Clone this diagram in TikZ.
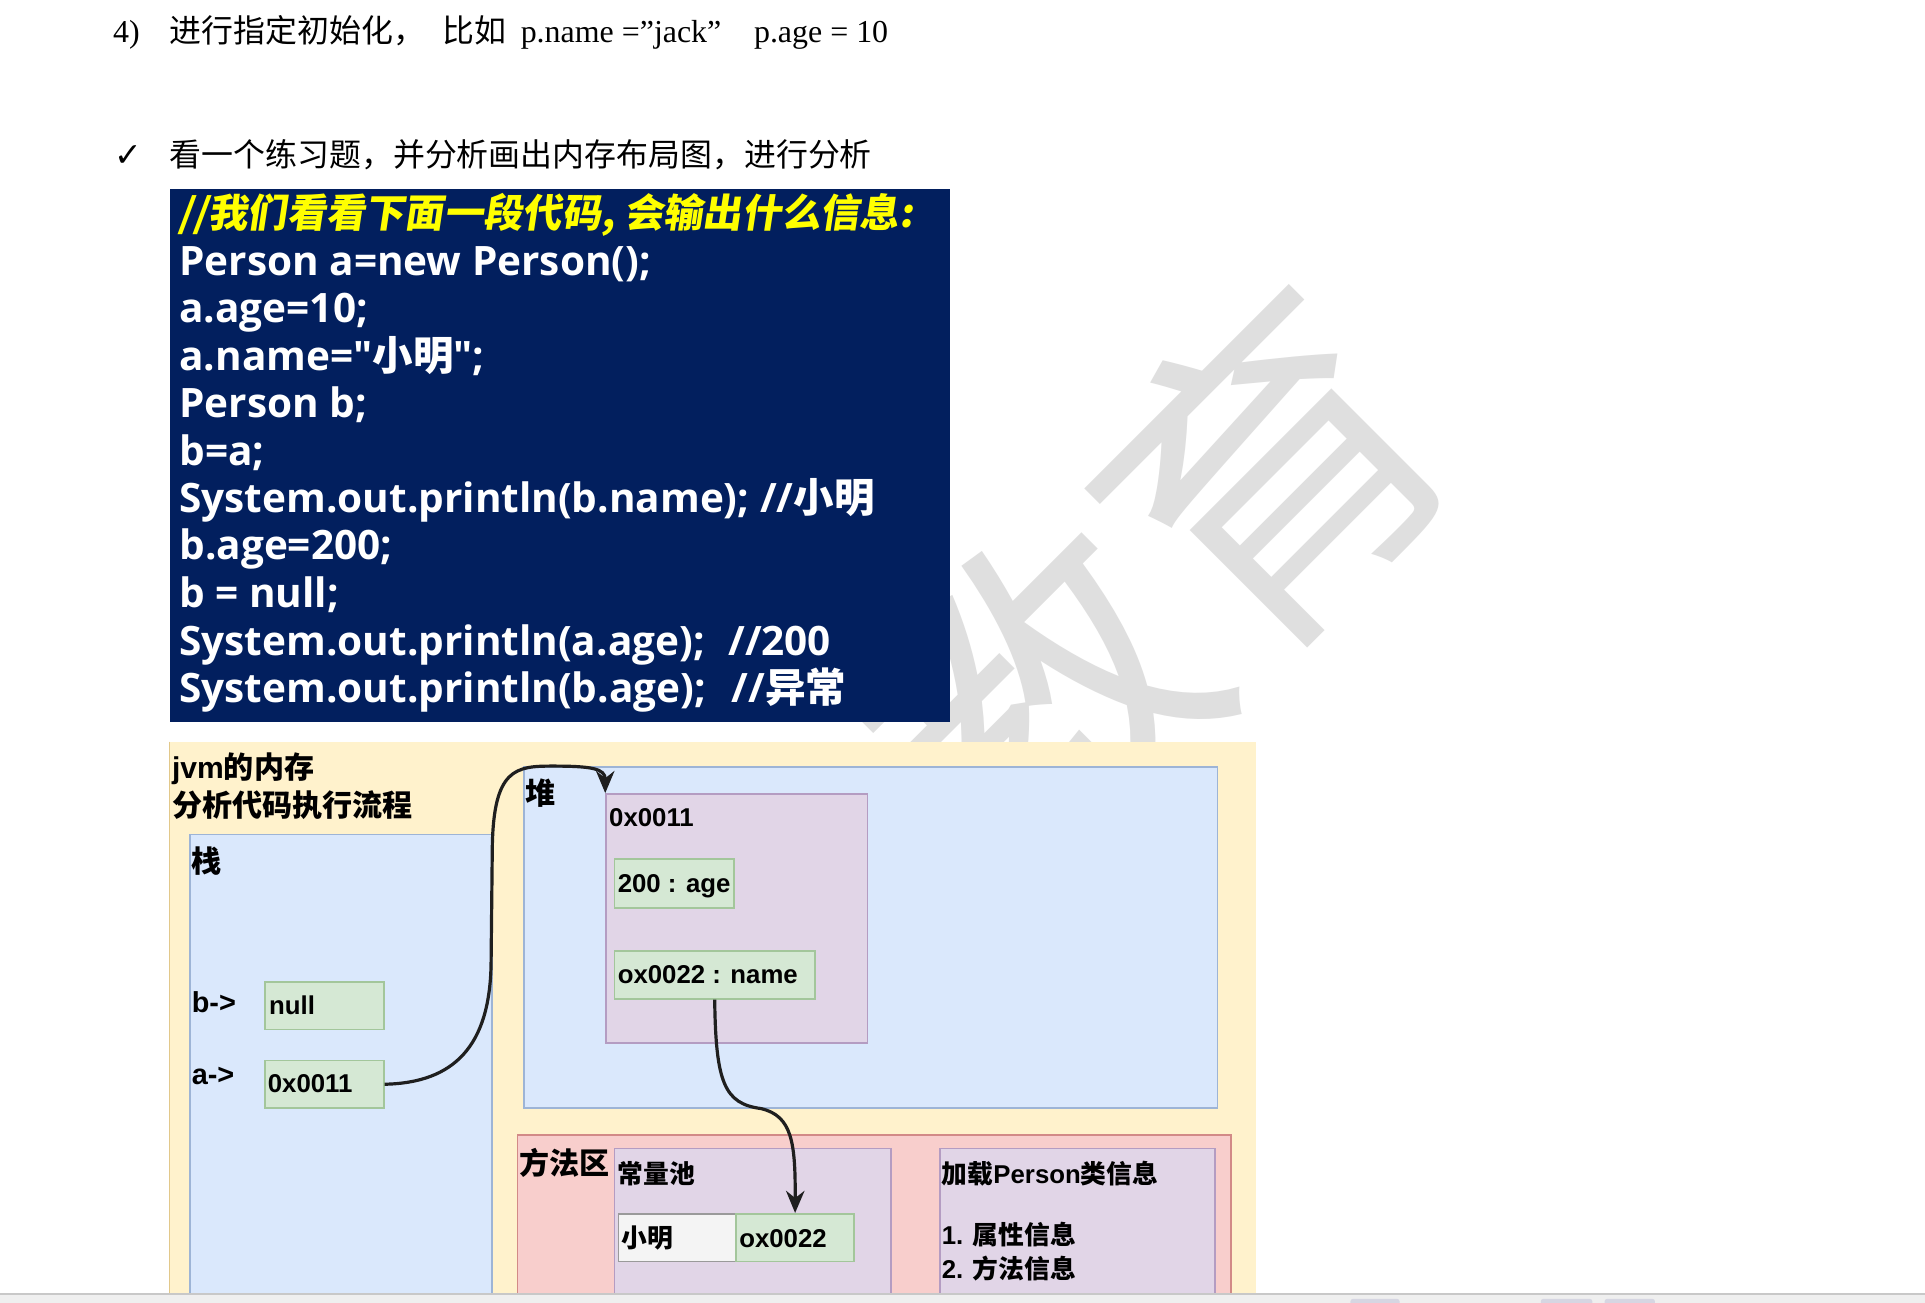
\documentclass[tikz,border=0pt]{standalone}
\usepackage{fontspec}
\setmainfont{Liberation Serif}
\newfontfamily\cjk{Noto Sans CJK SC}
\newfontfamily\cjkslant{Noto Sans CJK SC}[FakeSlant=0.15]
\newfontfamily\codefont{Open Sans}
\newfontfamily\diafont{Liberation Sans}
\newfontfamily\symfont{DejaVu Sans}
\usetikzlibrary{arrows.meta}

\definecolor{navy}{HTML}{021F5E}
\definecolor{codeyellow}{HTML}{FFFF00}
\definecolor{wmgrey}{HTML}{DFDFDF}
\definecolor{yfill}{HTML}{FFF2CC}
\definecolor{yline}{HTML}{E2C88A}
\definecolor{bfill}{HTML}{DAE8FC}
\definecolor{bline}{HTML}{9DB4D6}
\definecolor{pfill}{HTML}{E1D5E7}
\definecolor{pline}{HTML}{B49CC2}
\definecolor{gfill}{HTML}{D5E8D4}
\definecolor{gline}{HTML}{A3C69B}
\definecolor{rfill}{HTML}{F8CECC}
\definecolor{rline}{HTML}{D28A87}
\definecolor{wfill}{HTML}{F4F4F4}
\definecolor{wline}{HTML}{9A9A9A}
\definecolor{stripfill}{HTML}{EFEFEF}
\definecolor{stripline}{HTML}{C8C8C8}
\definecolor{strippatch}{HTML}{D6D6E2}

\newcommand\zhb[1]{{\cjk\bfseries #1}}

\tikzset{
  doc/.style={anchor=base west, inner sep=0pt, font=\fontsize{26}{26}\selectfont},
  wm/.style={inner sep=0pt, text=wmgrey, font=\cjk\fontsize{268}{268}\selectfont},
  codebox/.style={anchor=north west, fill=navy, inner sep=0pt},
  codeline/.style={anchor=base west, inner sep=0pt, text=white,
    font=\codefont\bfseries\fontsize{33}{33}\selectfont},
  codetitle/.style={anchor=base west, inner sep=0pt, text=codeyellow,
    font=\cjkslant\bfseries\fontsize{32}{32}\selectfont},
  region/.style={anchor=north west, inner sep=0pt, line width=1.3pt},
  bluebox/.style={region, fill=bfill, draw=bline},
  purplebox/.style={region, fill=pfill, draw=pline},
  greenbox/.style={region, fill=gfill, draw=gline},
  redbox/.style={region, fill=rfill, draw=rline},
  whitebox/.style={region, fill=wfill, draw=wline},
  lbl/.style={anchor=base west, inner sep=0pt, font=\diafont\bfseries\fontsize{21}{21}\selectfont},
  biglbl/.style={anchor=base west, inner sep=0pt, font=\diafont\bfseries\fontsize{24.5}{24.5}\selectfont},
  conn/.style={line width=2.6pt, draw=black!88, -{Stealth[length=18pt,width=15pt]}},
}

\begin{document}
\begin{tikzpicture}[x=1pt,y=-1pt]
\useasboundingbox (0,0) rectangle (1568,1061);
\fill[white] (0,0) rectangle (1568,1061);

% watermark behind everything
\node[wm, rotate=45] (wmark) at (940,478) {教育};

% running text above the exercise
\node[doc] (num) at (92,35) {4)};
\node[doc] (init) at (138,35) {\cjk 进行指定初始化，};
\node[doc] (eg) at (360,35) {\cjk 比如};
\node[doc] (pname) at (424,35) {p.name =”jack”};
\node[doc] (page) at (614,35) {p.age = 10};
\node[doc, font=\symfont\fontsize{27}{27}\selectfont] (tick) at (93,136) {✓};
\node[doc] (task) at (138,136) {\cjk 看一个练习题，并分析画出内存布局图，进行分析};

% code listing
\node[codebox, minimum width=636pt, minimum height=434pt] (code) at (138,154) {};
\node[codetitle] (c0) at (145,185) {//我们看看下面一段代码, 会输出什么信息:};
\node[codeline] (c1) at (146,224) {Person a=new Person();};
\node[codeline] (c2) at (146,262.7) {a.age=10;};
\node[codeline] (c3) at (146,301.4) {a.name="\zhb{小明}";};
\node[codeline] (c4) at (146,340) {Person b;};
\node[codeline] (c5) at (146,378.8) {b=a;};
\node[codeline] (c6) at (146,417.5) {System.out.println(b.name);};
\node[codeline] (c6c) at (619,417.5) {//\zhb{小明}};
\node[codeline] (c7) at (146,456) {b.age=200;};
\node[codeline] (c8) at (146,495) {b = null;};
\node[codeline] (c9) at (146,533.6) {System.out.println(a.age);};
\node[codeline] (c9c) at (593,533.6) {//200};
\node[codeline] (c10) at (146,572.3) {System.out.println(b.age);};
\node[codeline] (c10c) at (596,572.3) {//\zhb{异常}};

% memory layout
\node[region, fill=yfill, minimum width=884pt, minimum height=460pt] (jvm) at (138,604) {};
\draw[yline, line width=1.3pt] (jvm.north west) -- (jvm.south west);
\node[biglbl] (jvmt1) at (140,634) {jvm\zhb{的内存}};
\node[biglbl] (jvmt2) at (140,665) {\zhb{分析代码执行流程}};

% stack
\node[bluebox, minimum width=246pt, minimum height=390pt] (stack) at (154,679) {};
\node[biglbl] (stackt) at (156,711) {\zhb{栈}};
\node[biglbl, font=\diafont\bfseries\fontsize{23.5}{23.5}\selectfont] (bptr) at (156,825) {b->};
\node[biglbl, font=\diafont\bfseries\fontsize{23.5}{23.5}\selectfont] (aptr) at (156,883) {a->};
\node[greenbox, minimum width=97pt, minimum height=39pt] (bnull) at (215,799) {};
\node[lbl] (bnullt) at (219,826) {null};
\node[greenbox, minimum width=97pt, minimum height=39pt] (a0011) at (215,863) {};
\node[lbl] (a0011t) at (218,890) {0x0011};

% heap
\node[bluebox, minimum width=565pt, minimum height=278pt] (heap) at (426,624) {};
\node[biglbl] (heapt) at (428,655) {\zhb{堆}};
\node[purplebox, minimum width=213pt, minimum height=203pt] (obj) at (493,646) {};
\node[lbl] (objt) at (496,673) {0x0011};
\node[greenbox, minimum width=97pt, minimum height=40pt] (age) at (500,699) {};
\node[lbl] (aget) at (503,727) {200 : age};
\node[greenbox, minimum width=163pt, minimum height=39pt] (name) at (500,774) {};
\node[lbl] (namet) at (503,801) {ox0022 : name};

% method area
\node[redbox, minimum width=581pt, minimum height=140pt] (method) at (421,924) {};
\node[biglbl] (methodt) at (423,957) {\zhb{方法区}};
\node[purplebox, minimum width=225pt, minimum height=130pt] (pool) at (500,935) {};
\node[lbl] (poolt) at (503,964) {\zhb{常量池}};
\node[whitebox, minimum width=96pt, minimum height=39pt] (xm) at (503,988) {};
\node[lbl] (xmt) at (506,1016) {\zhb{小明}};
\node[greenbox, minimum width=96pt, minimum height=39pt] (ox22) at (599,988) {};
\node[lbl] (ox22t) at (602,1016) {ox0022};
\node[purplebox, minimum width=224pt, minimum height=130pt] (cls) at (765,935) {};
\node[lbl] (clst) at (767,964) {\zhb{加载}Person\zhb{类信息}};
\node[lbl] (cls1) at (767,1014) {1. \zhb{属性信息}};
\node[lbl] (cls2) at (767,1041) {2. \zhb{方法信息}};

% references
\draw[conn] (a0011.east) .. controls (370,882) and (399,852) .. (400,785)
  -- (401,690) .. controls (402,626) and (420,624) .. (450,624)
  .. controls (482,624) and (493,626) .. (obj.north west);
\draw[conn] (name.south) .. controls (583,882) and (590,899) .. (620,903)
  .. controls (645,909) and (648,930) .. (ox22.north);

% window strip along the lower edge
\fill[stripfill] (0,1054) rectangle (1568,1061);
\draw[stripline, line width=1.5pt] (0,1054) -- (1568,1054);
\fill[strippatch, rounded corners=2pt] (1100,1058) rectangle (1140,1063);
\fill[strippatch, rounded corners=2pt] (1255,1058) rectangle (1297,1063);
\fill[strippatch, rounded corners=2pt] (1307,1058) rectangle (1348,1063);
\end{tikzpicture}
\end{document}
